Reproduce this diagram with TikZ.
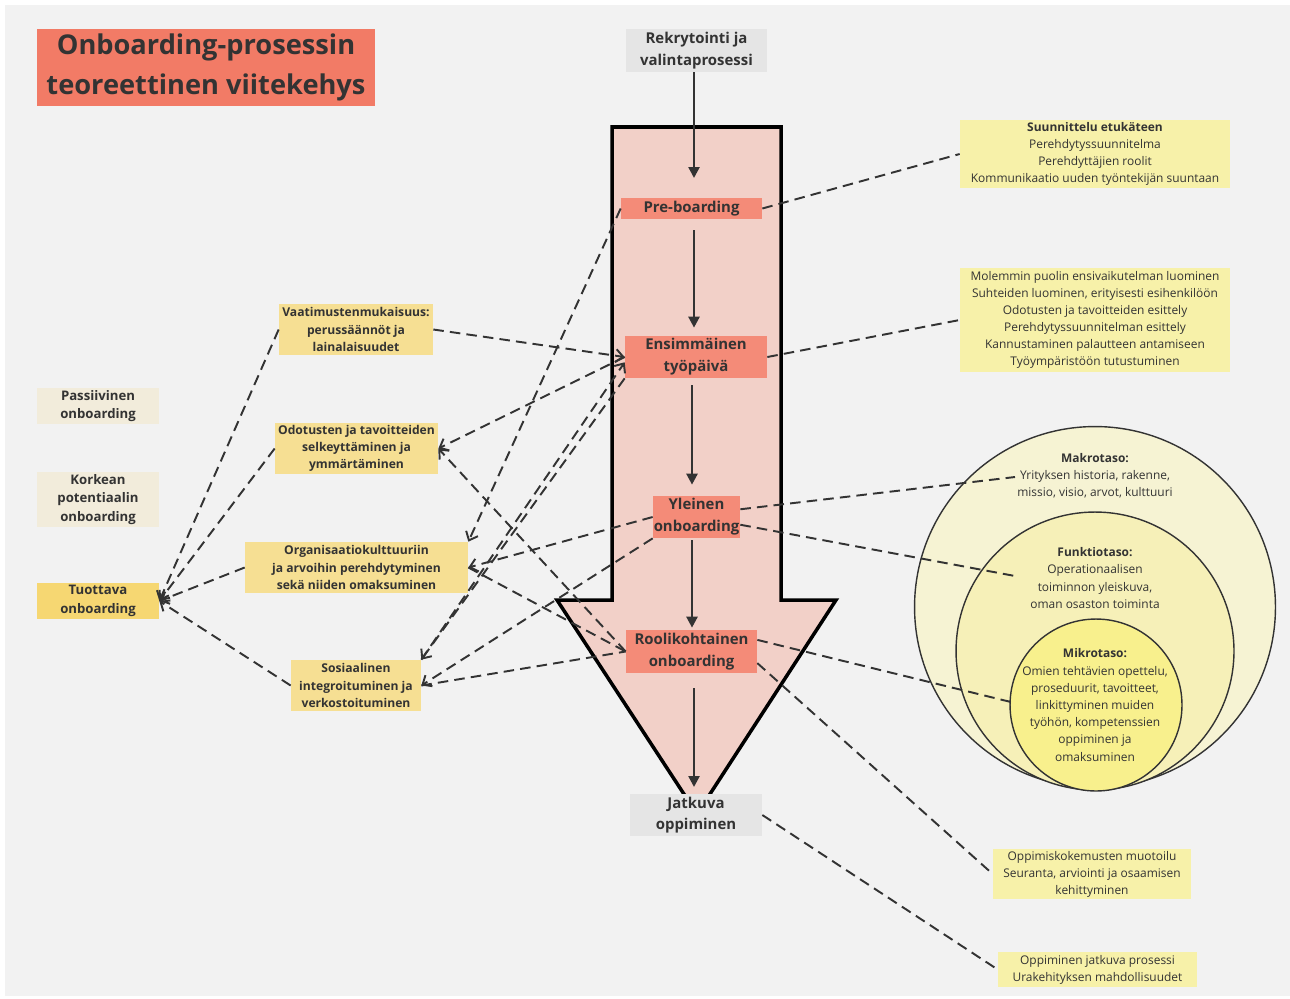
\documentclass[tikz,border=0pt]{standalone}
\usepackage{fontspec}
\setmainfont{Open Sans}
\usepackage{xcolor}
\usepackage{tikz}
\usetikzlibrary{arrows.meta,positioning,shapes,calc}

\definecolor{bggray}{HTML}{F2F2F2}
\definecolor{titlered}{HTML}{F27B66}
\definecolor{stagered}{HTML}{F48B78}
\definecolor{arrowpink}{HTML}{F2D0C8}
\definecolor{greybox}{HTML}{E5E5E5}
\definecolor{goldbox}{HTML}{F6DF93}
\definecolor{goldstrong}{HTML}{F6D772}
\definecolor{beigebox}{HTML}{F2ECDB}
\definecolor{lemonbox}{HTML}{F7F1A9}
\definecolor{circlebig}{HTML}{F6F3D3}
\definecolor{circlemid}{HTML}{F6F0B8}
\definecolor{circlesmall}{HTML}{F8F08D}
\definecolor{ink}{HTML}{333333}

\tikzset{every node/.append style={text=ink, inner sep=0pt, align=center}}
\tikzset{
  stagebox/.style={fill=stagered, font=\fontsize{8.5}{12.6}\selectfont\bfseries},
  greystage/.style={fill=greybox, font=\fontsize{8.5}{12.4}\selectfont\bfseries},
  goldnote/.style={fill=goldbox, font=\fontsize{6.9}{9.8}\selectfont\bfseries},
  sidenote/.style={fill=beigebox, font=\fontsize{7.5}{10.4}\selectfont\bfseries},
  lemonnote/.style={fill=lemonbox, font=\fontsize{6.8}{9.7}\selectfont},
  circletext/.style={font=\fontsize{6.8}{9.8}\selectfont},
  dashline/.style={draw=ink, line width=1.1pt, dash pattern=on 6pt off 3.5pt},
  dasharrow/.style={dashline, -{Straight Barb[length=1.5mm,width=2.6mm]}},
  flowarrow/.style={draw=ink, line width=1.4pt, -{Triangle[length=2.2mm,width=2.2mm]}}
}

\begin{document}
\begin{tikzpicture}[x=0.02cm,y=-0.02cm]
      % background
      \fill[white] (0,0) rectangle (1290,998);
      \fill[bggray] (5,5) rectangle (1290,996);

      % big arrow
      \draw[line width=2pt, fill=arrowpink, line join=miter]
        (612,127) -- (781,127) -- (781,600) -- (836,600) -- (697,814)
        -- (557,600) -- (612,600) -- cycle;

      % circles
      \node[circle, draw=ink, line width=0.8pt, fill=circlebig, minimum size=7.22cm] (makro) at (1095,607) {};
      \node[circle, draw=ink, line width=0.8pt, fill=circlemid, minimum size=5.56cm] (funktio) at (1095,651) {};
      \node[circle, draw=ink, line width=0.8pt, fill=circlesmall, minimum size=3.44cm] (mikro) at (1096,705) {};

      \node at (1095,476) (makrotxt) [circletext] {\textbf{Makrotaso:}\\Yrityksen historia, rakenne,\\missio, visio, arvot, kulttuuri};
      \node at (1095,578) (funktxt) [circletext] {\textbf{Funktiotaso:}\\Operationaalisen\\toiminnon yleiskuva,\\oman osaston toiminta};
      \node at (1095,705) (mikrotxt) [circletext] {\textbf{Mikrotaso:}\\Omien tehtävien opettelu,\\proseduurit, tavoitteet,\\linkittyminen muiden\\työhön, kompetenssien\\oppiminen ja\\omaksuminen};
      \coordinate (makroin) at (1015,477);
      \coordinate (funktin) at (1015,576);
      \coordinate (mikroin) at (1015,703);

      % title
      \node at (206,67.5) (title) [fill=titlered, minimum width=6.76cm, minimum height=1.54cm,
        font=\fontsize{15.5}{22.5}\selectfont\bfseries] {Onboarding-prosessin\\teoreettinen viitekehys};

      % stages
      \node at (696.5,50.5) (rekry) [greystage, minimum width=2.82cm, minimum height=0.86cm] {Rekrytointi ja\\valintaprosessi};
      \node at (691.5,208.5) (preb) [stagebox, minimum width=2.82cm, minimum height=0.42cm] {Pre-boarding};
      \node at (696,357) (ensip) [stagebox, minimum width=2.84cm, minimum height=0.84cm] {Ensimmäinen\\työpäivä};
      \node at (696.5,517) (yleinen) [stagebox, minimum width=1.74cm, minimum height=0.84cm] {Yleinen\\onboarding};
      \node at (691.5,651.5) (roolik) [stagebox, minimum width=2.62cm, minimum height=0.86cm] {Roolikohtainen\\onboarding};
      \node at (696,815) (jatkuva) [greystage, minimum width=2.64cm, minimum height=0.84cm] {Jatkuva\\oppiminen};

      % vertical flow
      \coordinate (axisA) at (694,0);
      \coordinate (axisB) at (692,0);
      \draw[flowarrow] (rekry.south -| axisA) -- (694,178);
      \draw[flowarrow, shorten <=0.22cm, shorten >=0.16cm] (preb.south -| axisA) -- (ensip.north -| axisA);
      \draw[flowarrow, shorten <=0.14cm, shorten >=0.22cm] (ensip.south -| axisB) -- (yleinen.north -| axisB);
      \draw[flowarrow, shorten <=0.04cm, shorten >=0.04cm] (yleinen.south -| axisB) -- (roolik.north -| axisB);
      \draw[flowarrow, shorten <=0.3cm] (roolik.south -| axisA) -- (694,787);

      % right notes
      \node at (1095,154) (suunn) [lemonnote, minimum width=5.4cm, minimum height=1.36cm] {\textbf{Suunnittelu etukäteen}\\Perehdytyssuunnitelma\\Perehdyttäjien roolit\\Kommunikaatio uuden työntekijän suuntaan};
      \node at (1095,320) (molem) [lemonnote, minimum width=5.4cm, minimum height=2.08cm] {Molemmin puolin ensivaikutelman luominen\\Suhteiden luominen, erityisesti esihenkilöön\\Odotusten ja tavoitteiden esittely\\Perehdytyssuunnitelman esittely\\Kannustaminen palautteen antamiseen\\Työympäristöön tutustuminen};
      \node at (1092,874) (oppkok) [lemonnote, minimum width=3.96cm, minimum height=1cm] {Oppimiskokemusten muotoilu\\Seuranta, arviointi ja osaamisen\\kehittyminen};
      \node at (1097.5,969.5) (oppjat) [lemonnote, minimum width=3.98cm, minimum height=0.7cm] {Oppiminen jatkuva prosessi\\Urakehityksen mahdollisuudet};

      % middle notes
      \node at (356,329.5) (vaatim) [goldnote, minimum width=3.08cm, minimum height=1.02cm] {Vaatimustenmukaisuus:\\perussäännöt ja\\lainalaisuudet};
      \node at (356.5,448.5) (odotus) [goldnote, minimum width=3.26cm, minimum height=1.02cm] {Odotusten ja tavoitteiden\\selkeyttäminen ja\\ymmärtäminen};
      \node at (356.5,567.5) (orgkult) [goldnote, minimum width=4.46cm, minimum height=1.02cm] {Organisaatiokulttuuriin\\ja arvoihin perehdytyminen\\sekä niiden omaksuminen};
      \node at (356,685.5) (sosint) [goldnote, minimum width=2.6cm, minimum height=1.02cm] {Sosiaalinen\\integroituminen ja\\verkostoituminen};

      % left notes
      \node at (98,406) (passiiv) [sidenote, minimum width=2.44cm, minimum height=0.72cm] {Passiivinen\\onboarding};
      \node at (98,499.5) (korkea) [sidenote, minimum width=2.44cm, minimum height=1.1cm] {Korkean\\potentiaalin\\onboarding};
      \node at (98,601) (tuottava) [sidenote, fill=goldstrong, minimum width=2.44cm, minimum height=0.72cm] {Tuottava\\onboarding};

      % links to Tuottava
      \draw[dasharrow] (vaatim.west) -- (tuottava.east);
      \draw[dasharrow] (odotus.west) -- (tuottava.east);
      \draw[dasharrow] (orgkult.west) -- (tuottava.east);
      \draw[dasharrow] (sosint.west) -- (tuottava.east);

      % links between notes and stages
      \draw[dasharrow] (vaatim.east) -- (ensip.west);
      \draw[dasharrow] (ensip.west) -- (odotus.east);
      \draw[dasharrow] (roolik.west) -- (odotus.east);
      \draw[dasharrow] (preb.west) -- (orgkult.north east);
      \draw[dasharrow] (yleinen.west) -- (orgkult.east);
      \draw[dashline] (orgkult.east) -- (roolik.west);
      \draw[dasharrow] (ensip.south west) -- (sosint.north east);
      \draw[dasharrow] (sosint.north east) -- ([yshift=-3pt]ensip.west);
      \draw[dasharrow] (yleinen.south west) -- (sosint.east);
      \draw[dashline] (sosint.east) -- (roolik.west);

      % links to the right
      \draw[dashline] (preb.east) -- (suunn.west);
      \draw[dashline] (ensip.east) -- (molem.west);
      \draw[dashline] (yleinen.10) -- (makroin);
      \draw[dashline] (yleinen.-10) -- (funktin);
      \draw[dashline] (roolik.10) -- (mikroin);
      \draw[dashline] (roolik.-10) -- (oppkok.west);
      \draw[dashline] (jatkuva.east) -- (oppjat.west);
    \end{tikzpicture}
\end{document}
